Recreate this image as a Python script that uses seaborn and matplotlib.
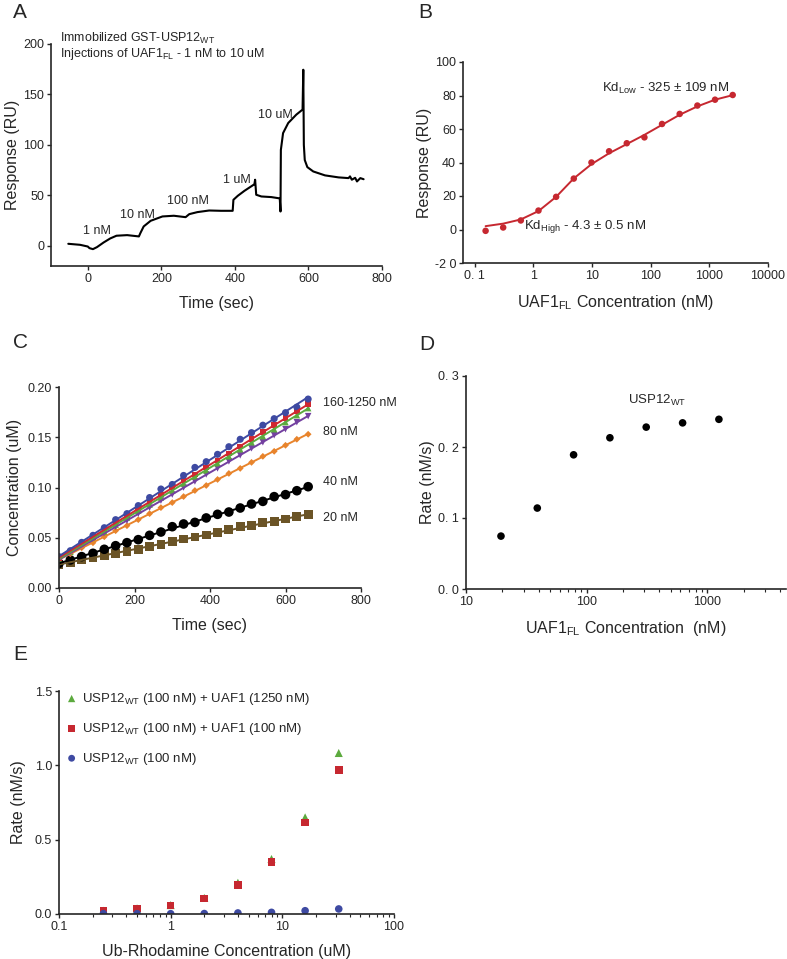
import numpy as np
import matplotlib
matplotlib.use('Agg')
import matplotlib.pyplot as plt
import matplotlib.ticker as mticker
import seaborn as sns

# ---- panel A : SPR sensorgram
a_time = [-53, -21, 0, 4.6, 14, 25, 43, 61, 78, 107, 139, 143, 152, 171, 203, 234, 266,
          276, 298, 330, 362, 394, 396, 408, 426, 453, 455, 458, 472, 499, 522, 524, 525,
          531, 545, 567, 584, 586, 587.5, 590, 597, 613, 645, 682, 709, 713, 718, 727,
          732, 741, 750]
a_resp = [2.0, 1.0, -0.7, -2.3, -3.3, -1.3, 3.3, 7.3, 10.0, 10.6, 9.3, 12.6, 19.2, 24.8,
          29.1, 29.8, 28.4, 31.4, 33.4, 35.0, 34.7, 34.7, 45.6, 49.6, 54.5, 61.0, 65.5,
          50.6, 48.9, 48.3, 47.0, 34.0, 95.0, 111.7, 121.7, 130.0, 135.0, 174.5, 100.0,
          85.0, 78.0, 73.7, 69.8, 67.8, 67.1, 68.8, 65.5, 67.4, 63.8, 67.1, 66.0]
a_inj_labels = ['1 nM', '10 nM', '100 nM', '1 uM', '10 uM']
a_inj_x = [-14, 88, 216, 367, 463]
a_inj_y = [15, 31, 44, 65, 130]

# ---- panel B : steady state binding
b_conc = [0.153, 0.305, 0.61, 1.22, 2.44, 4.88, 9.77, 19.5, 39.1, 78.1, 156, 312, 625,
          1250, 2500]
b_resp = [-0.8, 1.2, 5.4, 11.3, 19.5, 30.4, 40.0, 46.7, 51.5, 55.0, 63.0, 69.0, 74.0,
          77.5, 80.3]
b_fit = [2.0, 3.5, 6.0, 11.0, 19.5, 30.5, 39.0, 45.5, 51.0, 56.5, 62.5, 68.5, 73.5,
         77.5, 80.2]
b_xticks = [0.1, 1, 10, 100, 1000, 10000]
b_xlabels = ['0. 1', '1', '10', '100', '1000', '10000']
b_yticks = [-20, 0, 20, 40, 60, 80, 100]
b_ylabels = ['-2 0', '0', '20', '40', '60', '80', '100']

# ---- panel C : progress curves
c_time = [0, 30, 60, 90, 120, 150, 180, 210, 240, 270, 300, 330, 360, 390, 420, 450,
          480, 510, 540, 570, 600, 630, 660]
c_20 = [0.0235, 0.0255, 0.0285, 0.0305, 0.0325, 0.0345, 0.0365, 0.0385, 0.0415, 0.0435,
        0.0461, 0.0488, 0.0507, 0.0527, 0.0551, 0.0580, 0.0610, 0.0620, 0.0650, 0.0660,
        0.0687, 0.0710, 0.0730]
c_40 = [0.0245, 0.0279, 0.0312, 0.0345, 0.0385, 0.0421, 0.0451, 0.0481, 0.0524, 0.0557,
        0.0610, 0.0637, 0.0653, 0.0697, 0.0733, 0.0756, 0.0796, 0.0836, 0.0862, 0.0909,
        0.0929, 0.0968, 0.1008]
c_80 = [0.028, 0.034, 0.040, 0.045, 0.051, 0.057, 0.062, 0.068, 0.074, 0.080, 0.085,
        0.091, 0.097, 0.102, 0.108, 0.114, 0.119, 0.125, 0.131, 0.136, 0.142, 0.148, 0.153]
c_160 = [0.028, 0.035, 0.041, 0.048, 0.054, 0.061, 0.067, 0.074, 0.080, 0.087, 0.093,
         0.100, 0.106, 0.113, 0.119, 0.126, 0.132, 0.139, 0.145, 0.152, 0.158, 0.165, 0.171]
c_320 = [0.029, 0.036, 0.043, 0.049, 0.056, 0.063, 0.070, 0.077, 0.083, 0.090, 0.097,
         0.104, 0.111, 0.117, 0.124, 0.131, 0.138, 0.145, 0.151, 0.158, 0.165, 0.172, 0.179]
c_640 = [0.030, 0.037, 0.044, 0.051, 0.058, 0.065, 0.072, 0.079, 0.086, 0.093, 0.100,
         0.107, 0.113, 0.120, 0.127, 0.134, 0.141, 0.148, 0.155, 0.162, 0.169, 0.176, 0.183]
c_1250 = [0.0312, 0.0371, 0.0454, 0.0524, 0.060, 0.068, 0.074, 0.082, 0.090, 0.0985,
          0.103, 0.112, 0.120, 0.1257, 0.133, 0.1406, 0.148, 0.1546, 0.162, 0.1685,
          0.1745, 0.180, 0.188]
c_labels = ['160-1250 nM', '80 nM', '40 nM', '20 nM']
c_label_y = [0.184, 0.155, 0.105, 0.0697]

# ---- panel D : rate vs UAF1
d_conc = [19.5, 39, 78, 156, 312, 625, 1250]
d_rate = [0.0745, 0.114, 0.189, 0.213, 0.228, 0.234, 0.239]

# ---- panel E : rate vs substrate
e_conc = [0.25, 0.5, 1, 2, 4, 8, 16, 32]
e_uaf1250 = [0.022, 0.038, 0.060, 0.108, 0.21, 0.37, 0.65, 1.083]
e_uaf100 = [0.020, 0.036, 0.058, 0.105, 0.197, 0.349, 0.616, 0.967]
e_alone = [0.002, 0.002, 0.002, 0.003, 0.007, 0.011, 0.022, 0.034]
e_names = ['USP12$_{\\mathrm{WT}}$ (100 nM) + UAF1 (1250 nM)',
           'USP12$_{\\mathrm{WT}}$ (100 nM) + UAF1 (100 nM)',
           'USP12$_{\\mathrm{WT}}$ (100 nM)']

sns.set_theme(style='ticks')
plt.rcParams['font.family'] = ['Liberation Sans', 'DejaVu Sans']
plt.rcParams['mathtext.fontset'] = 'custom'
plt.rcParams['mathtext.rm'] = 'Liberation Sans'
plt.rcParams['mathtext.it'] = 'Liberation Sans:italic'
plt.rcParams['axes.linewidth'] = 1.2
plt.rcParams['xtick.major.width'] = 1.0
plt.rcParams['ytick.major.width'] = 1.0
plt.rcParams['xtick.major.size'] = 3
plt.rcParams['ytick.major.size'] = 3
plt.rcParams['xtick.labelsize'] = 9
plt.rcParams['ytick.labelsize'] = 9
plt.rcParams['axes.labelsize'] = 11.5

W, H = 787, 959
fig = plt.figure(figsize=(W / 100, H / 100), dpi=100)


def box(l, r, t, b):
    return [l / W, 1 - b / H, (r - l) / W, (b - t) / H]


axA = fig.add_axes(box(51, 382, 44, 266))
axB = fig.add_axes(box(463, 768, 62, 263))
axC = fig.add_axes(box(59, 361, 387, 588))
axD = fig.add_axes(box(466, 786, 376, 589))
axE = fig.add_axes(box(59, 394, 691, 914))

# A
sns.lineplot(x=a_time, y=a_resp, sort=False, estimator=None, color='black', lw=1.5, ax=axA)
for lab, x, y in zip(a_inj_labels, a_inj_x, a_inj_y):
    axA.text(x, y, lab, fontsize=9, va='center', ha='left')
axA.text(0.027, 1.025, 'Immobilized GST-USP12$_{\\mathrm{WT}}$', transform=axA.transAxes,
         fontsize=9, va='center')
axA.text(0.027, 0.955, 'Injections of UAF1$_{\\mathrm{FL}}$ - 1 nM to 10 uM',
         transform=axA.transAxes, fontsize=9, va='center')
axA.set_xlim(-100, 800)
axA.set_ylim(-20, 200)
axA.set_xticks([0, 200, 400, 600, 800])
axA.set_yticks([0, 50, 100, 150, 200])
axA.set_xlabel('Time (sec)', labelpad=8)
axA.set_ylabel('Response (RU)', labelpad=2)

# B
red = '#C62830'
sns.lineplot(x=b_conc, y=b_fit, color=red, lw=1.4, ax=axB)
sns.scatterplot(x=b_conc, y=b_resp, color=red, s=22, edgecolor='none', ax=axB, zorder=3)
axB.set_xscale('log')
axB.set_xlim(0.063, 10000)
axB.set_ylim(-20, 100)
axB.set_xticks(b_xticks, labels=b_xlabels)
axB.xaxis.set_minor_locator(mticker.NullLocator())
axB.set_yticks(b_yticks, labels=b_ylabels)
axB.text(14.7, 84.3, 'Kd$_{\\mathrm{Low}}$ - 325 ± 109 nM', fontsize=9.5, va='center')
axB.text(0.69, 1.6, 'Kd$_{\\mathrm{High}}$ - 4.3 ± 0.5 nM', fontsize=9.5, va='center')
axB.set_xlabel('UAF1$_{\\mathrm{FL}}$ Concentration (nM)', labelpad=8)
axB.set_ylabel('Response (RU)', labelpad=2)

# C
c_series = [
    (c_20, '#6B5426', 's', 40),
    (c_40, 'black', 'o', 48),
    (c_80, '#E8842C', 'D', 12),
    (c_160, '#7340A0', 'v', 22),
    (c_320, '#5CAA3E', '^', 22),
    (c_640, '#D02830', 's', 16),
    (c_1250, '#3E4AA2', 'o', 26),
]
for vals, col, mk, sz in c_series:
    sns.regplot(x=np.array(c_time), y=np.array(vals), ci=None, color=col, marker=mk,
                scatter_kws={'s': sz, 'edgecolor': 'none', 'alpha': 1},
                line_kws={'lw': 1.4}, ax=axC)
for lab, y in zip(c_labels, c_label_y):
    axC.text(700, y, lab, fontsize=9, va='center', ha='left')
axC.set_xlim(0, 800)
axC.set_ylim(0, 0.2)
axC.set_xticks([0, 200, 400, 600, 800])
axC.set_yticks([0, 0.05, 0.10, 0.15, 0.20], labels=['0.00', '0.05', '0.10', '0.15', '0.20'])
axC.set_xlabel('Time (sec)', labelpad=8)
axC.set_ylabel('Concentration (uM)', labelpad=4)

# D
sns.scatterplot(x=d_conc, y=d_rate, color='black', s=30, edgecolor='none', ax=axD)
axD.set_xscale('log')
axD.set_xlim(10, 4500)
axD.set_ylim(0, 0.3)
axD.set_xticks([10, 100, 1000], labels=['10', '100', '1000'])
axD.set_yticks([0, 0.1, 0.2, 0.3], labels=['0. 0', '0. 1', '0. 2', '0. 3'])
axD.tick_params(axis='x', which='minor', length=2, width=0.8)
axD.text(219, 0.265, 'USP12$_{\\mathrm{WT}}$', fontsize=9.5, va='center')
axD.set_xlabel('UAF1$_{\\mathrm{FL}}$ Concentration  (nM)', labelpad=8)
axD.set_ylabel('Rate (nM/s)', labelpad=2)

# E
sns.scatterplot(x=e_conc, y=e_uaf1250, color='#5CAA3E', marker='^', s=34,
                edgecolor='none', label=e_names[0], ax=axE)
sns.scatterplot(x=e_conc, y=e_uaf100, color='#C62830', marker='s', s=30,
                edgecolor='none', label=e_names[1], ax=axE)
sns.scatterplot(x=e_conc, y=e_alone, color='#3E4AA2', marker='o', s=30,
                edgecolor='none', label=e_names[2], ax=axE)
axE.set_xscale('log')
axE.set_xlim(0.1, 100)
axE.set_ylim(0, 1.5)
axE.set_xticks([0.1, 1, 10, 100], labels=['0.1', '1', '10', '100'])
axE.set_yticks([0, 0.5, 1.0, 1.5], labels=['0.0', '0.5', '1.0', '1.5'])
axE.tick_params(axis='x', which='minor', length=2, width=0.8)
axE.legend(loc='upper left', bbox_to_anchor=(0.018, 1.0), frameon=False, fontsize=9.5,
           handlelength=1, handletextpad=0.3, labelspacing=1.05, borderpad=0,
           borderaxespad=0, markerscale=0.9)
axE.set_xlabel('Ub-Rhodamine Concentration (uM)', labelpad=8)
axE.set_ylabel('Rate (nM/s)', labelpad=6)

for ax in [axA, axB, axC, axD, axE]:
    sns.despine(ax=ax)
    ax.tick_params(which='major', direction='out', pad=2)

for lab, x, y in [('A', 20, 13), ('B', 425, 12), ('C', 20, 343), ('D', 427, 344),
                  ('E', 20, 655)]:
    fig.text(x / W, 1 - y / H, lab, fontsize=15, ha='center', va='center')

fig.savefig('out.png', dpi=100)
